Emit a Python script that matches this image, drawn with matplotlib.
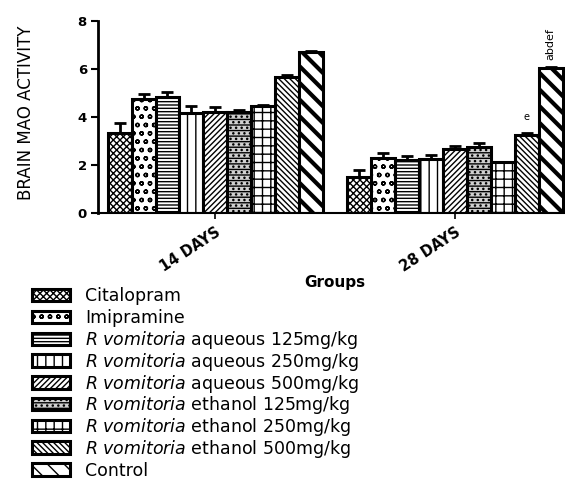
import numpy as np
import matplotlib
matplotlib.use('Agg')
import matplotlib.pyplot as plt
from matplotlib.patches import Patch, Rectangle
from matplotlib.legend_handler import HandlerPatch
from matplotlib import font_manager

# Data
groups = ['14 DAYS', '28 DAYS']
treatments = [
    'Citalopram',
    'Imipramine',
    r'$\it{R\ vomitoria}$ aqueous 125mg/kg',
    r'$\it{R\ vomitoria}$ aqueous 250mg/kg',
    r'$\it{R\ vomitoria}$ aqueous 500mg/kg',
    r'$\it{R\ vomitoria}$ ethanol 125mg/kg',
    r'$\it{R\ vomitoria}$ ethanol 250mg/kg',
    r'$\it{R\ vomitoria}$ ethanol 500mg/kg',
    'Control',
]
means_14 = [3.33, 4.75, 4.82, 4.15, 4.20, 4.20, 4.46, 5.65, 6.72]
err_14 = [0.42, 0.21, 0.21, 0.31, 0.20, 0.08, 0.04, 0.09, 0.03]
means_28 = [1.51, 2.28, 2.21, 2.24, 2.65, 2.76, 2.11, 3.25, 6.05]
err_28 = [0.28, 0.21, 0.15, 0.18, 0.15, 0.14, 0.02, 0.10, 0.03]
hatches = ['xxxxx', 'oo', '-----', '||', '//////', '---...', '++', '\\\\\\\\\\\\', '\\\\']
facecolors = ['white', 'white', 'white', 'white', 'white', '#d0d0d0', 'white', 'white', 'white']
annot_28 = {7: 'e', 8: 'abdef'}

names = {f.name for f in font_manager.fontManager.ttflist}
narrow = 'Liberation Sans Narrow' if 'Liberation Sans Narrow' in names else 'DejaVu Sans'

plt.rcParams['hatch.linewidth'] = 1.0

fig = plt.figure(figsize=(5.65, 4.82), dpi=100)
ax = fig.add_axes([0.1735, 0.558, 0.8265, 0.3985])

n = len(treatments)
for g, (means, errs) in enumerate([(means_14, err_14), (means_28, err_28)]):
    base = g * (n + 1)
    for i in range(n):
        x = base + i
        b = ax.bar(x, means[i], width=1.0, facecolor=facecolors[i], edgecolor='black',
                   linewidth=2.2, hatch=hatches[i], zorder=2)
        if i == n - 1:
            for p in b:
                p.set_hatch_linewidth(3.0)
        ax.errorbar(x, means[i], yerr=[[0], [errs[i]]], fmt='none', ecolor='black',
                    elinewidth=2, capsize=4.3, capthick=2, zorder=3)

# significance letters on the 28-day group
for i, txt in annot_28.items():
    x = (n + 1) + i
    top = means_28[i] + err_28[i]
    if len(txt) == 1:
        ax.text(x, top + 0.45, txt, ha='center', va='bottom', fontsize=7, family=narrow)
    else:
        ax.text(x, top + 0.3, txt, ha='center', va='bottom', fontsize=8,
                rotation=90, family=narrow)

ax.set_xlim(-0.9, 2 * n + 0.6)
ax.set_ylim(0, 8)
ax.set_yticks([0, 2, 4, 6, 8])
ax.set_yticklabels(['0', '2', '4', '6', '8'], fontweight='bold', fontsize=9.5)
ax.set_xticks([(n - 1) / 2, (n + 1) + (n - 1) / 2])
ax.set_xticklabels(groups, rotation=33, ha='right', rotation_mode='anchor',
                   fontweight='bold', fontsize=10.5)
ax.tick_params(axis='y', length=5, width=1.5, pad=3)
ax.tick_params(axis='x', length=4, width=1.2, pad=4)
ax.spines['top'].set_visible(False)
ax.spines['right'].set_visible(False)
ax.spines['left'].set_linewidth(2)
ax.spines['bottom'].set_linewidth(1.5)
ax.set_ylabel('BRAIN MAO ACTIVITY', fontsize=12, family=narrow)
ax.yaxis.set_label_coords(-0.135, 0.52)
fig.text(0.593, 0.413, 'Groups', ha='center', va='center', fontweight='bold', fontsize=11)


# legend swatches: small boxes around the text middle; the tall handle slot keeps rows even
def small_box(legend, orig_handle, xdescent, ydescent, width, height, fontsize):
    h = 0.72 * fontsize
    return Rectangle((-xdescent, 0.36 * fontsize - h / 2), width, h)


handles = [Patch(facecolor=facecolors[i], edgecolor='black', linewidth=2.2, hatch=hatches[i])
           for i in range(n)]
leg = fig.legend(handles, treatments, loc='upper left', bbox_to_anchor=(0.056, 0.416),
                 frameon=False, fontsize=12.5, handlelength=2.2, handleheight=2.2,
                 handletextpad=0.9, labelspacing=-0.42, borderaxespad=0, borderpad=0,
                 handler_map={Patch: HandlerPatch(patch_func=small_box)})

fig.savefig('out.png', dpi=100)
